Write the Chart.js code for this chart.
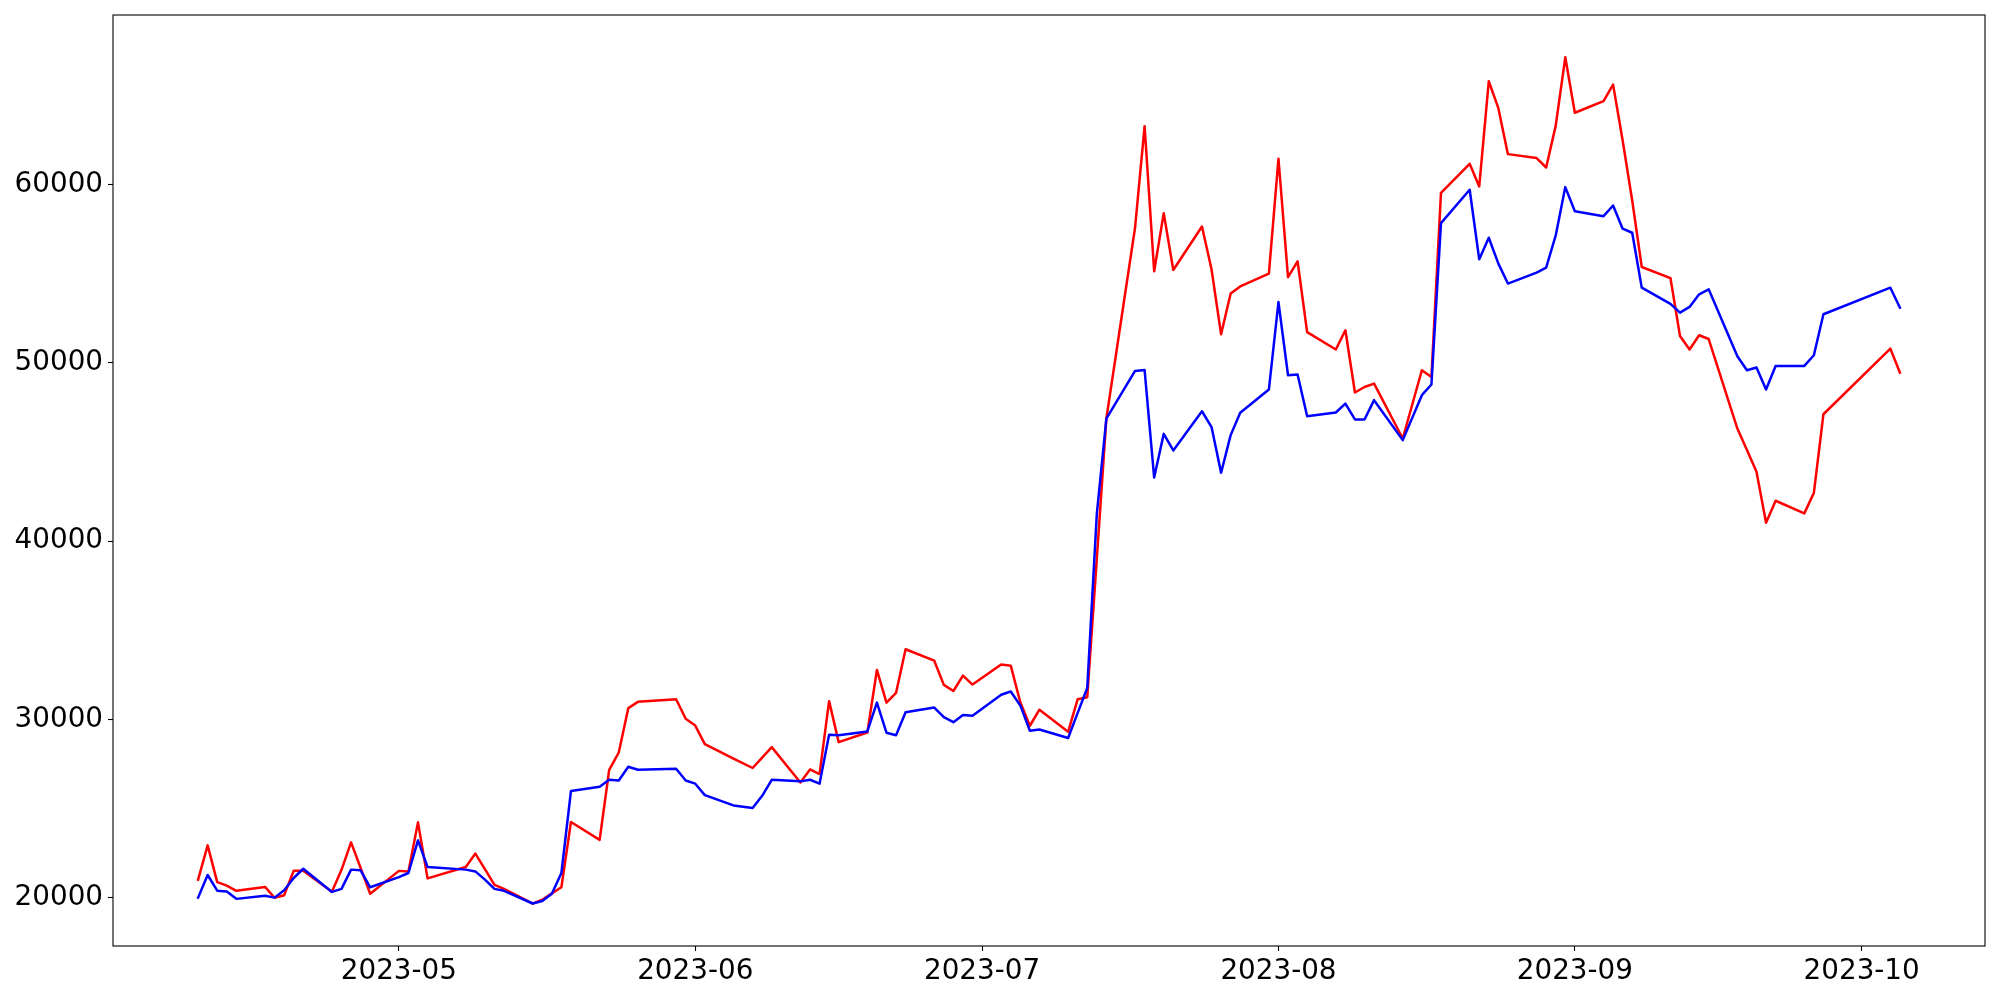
<!DOCTYPE html>
<html>
<head>
<meta charset="utf-8">
<script src="https://cdn.jsdelivr.net/npm/chart.js@4/dist/chart.umd.min.js"></script>
<style>
html,body{margin:0;padding:0;background:#ffffff;}
#wrap{width:2000px;height:1000px;position:relative;}
</style>
</head>
<body>
<div id="wrap"><canvas id="c" width="2000" height="1000"></canvas></div>
<script>
const dates = [
 '2023-04-10','2023-04-11','2023-04-12','2023-04-13','2023-04-14',
 '2023-04-17','2023-04-18','2023-04-19','2023-04-20','2023-04-21',
 '2023-04-24','2023-04-25','2023-04-26','2023-04-27','2023-04-28',
 '2023-05-01','2023-05-02','2023-05-03','2023-05-04',
 '2023-05-08','2023-05-09','2023-05-10','2023-05-11','2023-05-12',
 '2023-05-15','2023-05-16','2023-05-17','2023-05-18','2023-05-19',
 '2023-05-22','2023-05-23','2023-05-24','2023-05-25','2023-05-26',
 '2023-05-30','2023-05-31','2023-06-01','2023-06-02',
 '2023-06-05','2023-06-07','2023-06-08','2023-06-09',
 '2023-06-12','2023-06-13','2023-06-14','2023-06-15','2023-06-16',
 '2023-06-19','2023-06-20','2023-06-21','2023-06-22','2023-06-23',
 '2023-06-26','2023-06-27','2023-06-28','2023-06-29','2023-06-30',
 '2023-07-03','2023-07-04','2023-07-05','2023-07-06','2023-07-07',
 '2023-07-10','2023-07-11','2023-07-12','2023-07-13','2023-07-14',
 '2023-07-17','2023-07-18','2023-07-19','2023-07-20','2023-07-21',
 '2023-07-24','2023-07-25','2023-07-26','2023-07-27','2023-07-28',
 '2023-07-31','2023-08-01','2023-08-02','2023-08-03','2023-08-04',
 '2023-08-07','2023-08-08','2023-08-09','2023-08-10','2023-08-11',
 '2023-08-14','2023-08-16','2023-08-17','2023-08-18',
 '2023-08-21','2023-08-22','2023-08-23','2023-08-24','2023-08-25',
 '2023-08-28','2023-08-29','2023-08-30','2023-08-31','2023-09-01',
 '2023-09-04','2023-09-05','2023-09-06','2023-09-07','2023-09-08',
 '2023-09-11','2023-09-12','2023-09-13','2023-09-14','2023-09-15',
 '2023-09-18','2023-09-19','2023-09-20','2023-09-21','2023-09-22',
 '2023-09-25','2023-09-26','2023-09-27',
 '2023-10-04','2023-10-05'
];

const redValues = [
 21010,22930,20870,20670,20380,
 20600,19990,20130,21510,21510,
 20330,21560,23100,21660,20220,
 21500,21470,24220,21080,
 21720,22470,21600,20710,20490,
 19660,19880,20240,20580,24240,
 23240,27170,28140,30630,30980,
 31130,30030,29650,28610,
 27800,27270,27850,28440,
 26460,27190,26930,31020,28720,
 29260,32770,30940,31480,33930,
 33290,31930,31590,32450,31950,
 33070,33010,30960,29640,30540,
 29300,31130,31240,39000,46870,
 57570,63270,55130,58390,55200,
 57640,55240,51600,53880,54280,
 55000,61440,54800,55690,51720,
 50740,51820,48330,48640,48830,
 45750,49580,49200,59530,
 61160,59890,65790,64280,61700,
 61480,60950,63300,67130,64020,
 64670,65600,62460,59100,55370,
 54750,51500,50740,51540,51330,
 46310,45100,43880,41030,42260,
 41550,42700,47110,
 50790,49450
];

const blueValues = [
 20000,21270,20390,20340,19930,
 20110,20000,20410,21100,21620,
 20320,20490,21570,21530,20580,
 21150,21380,23210,21720,
 21570,21470,21010,20490,20380,
 19670,19810,20220,21380,25980,
 26220,26610,26570,27340,27170,
 27230,26570,26390,25750,
 25170,25030,25710,26610,
 26520,26610,26390,29130,29110,
 29320,30940,29250,29110,30400,
 30660,30120,29840,30240,30200,
 31380,31560,30780,29360,29430,
 28950,30360,31760,41510,46870,
 49540,49590,43560,46010,45080,
 47280,46390,43830,45940,47190,
 48500,53400,49300,49340,47000,
 47210,47710,46820,46820,47900,
 45660,48180,48780,57830,
 59700,55800,57010,55560,54440,
 55050,55330,57140,59850,58500,
 58220,58820,57520,57290,54210,
 53300,52810,53130,53840,54120,
 50360,49580,49730,48500,49820,
 49820,50420,52720,
 54210,53090
];

const yTickValues = [20000, 30000, 40000, 50000, 60000];
const xTickLabels = ['2023-05','2023-06','2023-07','2023-08','2023-09','2023-10'];

const DAY = 86400000;
function toDay(s){
  const p = s.split('-').map(Number);
  return Date.UTC(p[0], p[1]-1, p[2] || 1) / DAY;
}

const xs = dates.map(toDay);
const xMinData = Math.min(...xs), xMaxData = Math.max(...xs);
const xPad = (xMaxData - xMinData) * 0.05;
const allVals = redValues.concat(blueValues);
const yMinData = Math.min(...allVals), yMaxData = Math.max(...allVals);
const yPad = (yMaxData - yMinData) * 0.05;

const redData = xs.map((x, i) => ({x: x, y: redValues[i]}));
const blueData = xs.map((x, i) => ({x: x, y: blueValues[i]}));
const xTickPos = xTickLabels.map(m => toDay(m + '-01'));

const XFONT = {family: "'DejaVu Sans', sans-serif", size: 27.8};
const YFONT = {family: "'DejaVu Sans', sans-serif", size: 27.8, lineHeight: 0.6};

const framePlugin = {
  id: 'frame',
  afterDatasetsDraw(chart) {
    const a = chart.chartArea, ctx = chart.ctx;
    ctx.save();
    ctx.strokeStyle = '#000000';
    ctx.lineWidth = 1.1;
    ctx.strokeRect(a.left, a.top, a.right - a.left, a.bottom - a.top);
    ctx.restore();
  }
};

new Chart(document.getElementById('c'), {
  type: 'line',
  data: {
    datasets: [
      {label: 'red', data: redData, borderColor: '#ff0000', backgroundColor: '#ff0000',
       borderWidth: 2.5, pointRadius: 0, tension: 0, fill: false, order: 2,
       borderJoinStyle: 'round', borderCapStyle: 'square'},
      {label: 'blue', data: blueData, borderColor: '#0000ff', backgroundColor: '#0000ff',
       borderWidth: 2.5, pointRadius: 0, tension: 0, fill: false, order: 1,
       borderJoinStyle: 'round', borderCapStyle: 'square'}
    ]
  },
  options: {
    responsive: false,
    devicePixelRatio: 1,
    animation: false,
    events: [],
    layout: {padding: {left: 0, top: 15, right: 15, bottom: 0}},
    plugins: {legend: {display: false}, tooltip: {enabled: false}, title: {display: false}},
    scales: {
      x: {
        type: 'linear',
        min: xMinData - xPad,
        max: xMaxData + xPad,
        afterBuildTicks: (scale) => { scale.ticks = xTickPos.map(v => ({value: v})); },
        afterFit: (scale) => { scale.height = 54; },
        ticks: {
          autoSkip: false, maxRotation: 0, minRotation: 0, padding: 4,
          color: '#000000', font: XFONT,
          callback: (v) => { const i = xTickPos.indexOf(v); return i >= 0 ? xTickLabels[i] : ''; }
        },
        grid: {display: true, drawOnChartArea: false, drawTicks: true, tickLength: 5,
               tickColor: '#000000', tickWidth: 1.1},
        border: {display: false}
      },
      y: {
        type: 'linear',
        min: yMinData - yPad,
        max: yMaxData + yPad,
        afterBuildTicks: (scale) => { scale.ticks = yTickValues.map(v => ({value: v})); },
        afterFit: (scale) => { scale.width = 113; },
        ticks: {
          padding: 5, color: '#000000', font: YFONT,
          callback: (v) => String(v)
        },
        grid: {display: true, drawOnChartArea: false, drawTicks: true, tickLength: 5,
               tickColor: '#000000', tickWidth: 1.1},
        border: {display: false}
      }
    }
  },
  plugins: [framePlugin]
});
</script>
</body>
</html>
